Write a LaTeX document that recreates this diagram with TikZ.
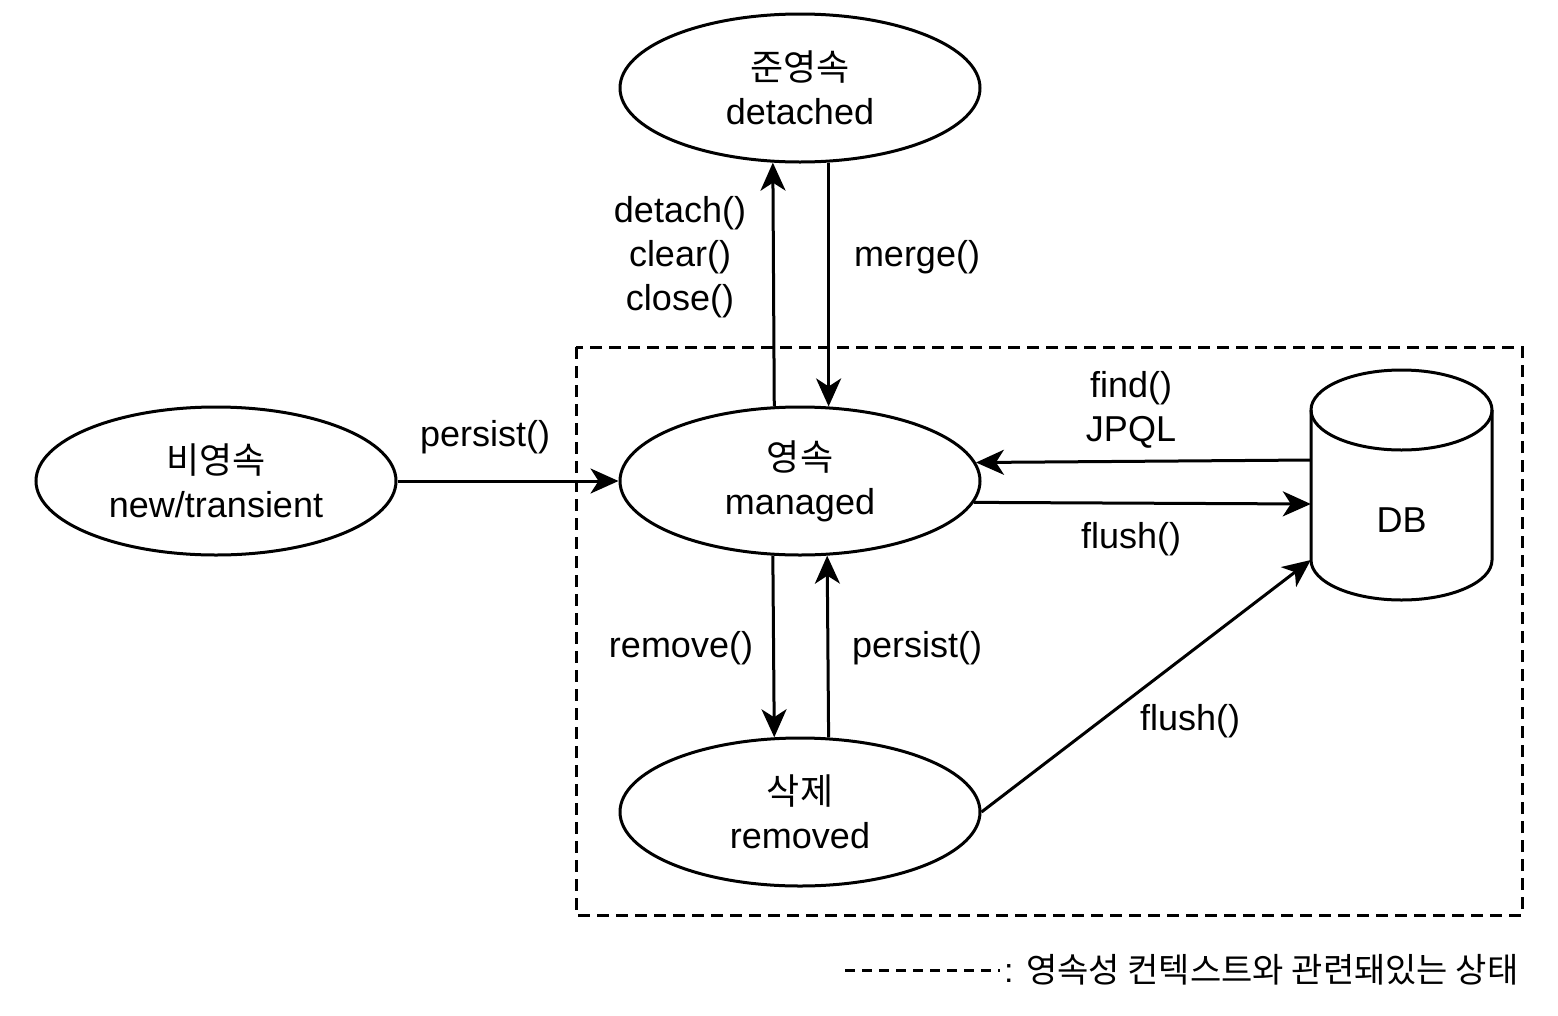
\documentclass[tikz,border=0pt]{standalone}
\usepackage{fontspec}
\setmainfont{Liberation Sans}
\newfontfamily\kr{Noto Sans CJK KR}
\usetikzlibrary{arrows.meta,shapes.geometric}
\begin{document}
\begin{tikzpicture}[x=1pt,y=-1pt,
  st/.style={ellipse,draw,line width=3pt,minimum width=360pt,minimum height=148pt,inner sep=0pt,align=center,font=\fontsize{36}{44}\selectfont},
  arr/.style={line width=3pt,-{Stealth[length=28pt,width=25pt,inset=8pt]}},
  lbl/.style={align=center,inner sep=0pt,font=\fontsize{36}{44}\selectfont}]
\useasboundingbox (0,0) rectangle (1558,1015);
% persistence context
\draw[line width=3pt,dash pattern=on 12pt off 7pt] (576,347) rectangle (1522,915);
% states
\node[st] (new) at (216,481) {{\kr 비영속}\\new/transient};
\node[st] (det) at (800,88) {{\kr 준영속}\\detached};
\node[st] (man) at (800,481) {{\kr 영속}\\managed};
\node[st] (rem) at (800,812) {{\kr 삭제}\\removed};
% DB cylinder
\draw[line width=3pt] (1401.5,410) ellipse [x radius=90.5, y radius=40];
\draw[line width=3pt] (1311,410) -- (1311,560) arc[start angle=180,end angle=0,x radius=90.5,y radius=40] -- (1492,410);
\node[lbl,minimum width=181pt,minimum height=150pt] (db) at (1401.5,520) {DB};
% connectors
\draw[arr] (new.east) -- (man.west);
\node[lbl] (l1) at (485,437) {persist()};
\draw[arr] (man.109.5) -- (det.250.2);
\node[lbl] (l2) at (680,257) {detach()\\clear()\\close()};
\draw[arr] (det.291.2) -- (man.69.1);
\node[lbl] (l3) at (917,257) {merge()};
\draw[arr] ([yshift=60pt]db.west) -- (man.6.9);
\node[lbl] (l4) at (1131,410) {find()\\JPQL};
\draw[arr] (man.-7.7) -- ([yshift=16pt]db.west);
\node[lbl] (l5) at (1131,539) {flush()};
\draw[arr] (man.250.5) -- (rem.109.5);
\node[lbl] (l6) at (681,648) {remove()};
\draw[arr] (rem.69.1) -- (man.290.9);
\node[lbl] (l7) at (917,648) {persist()};
\draw[arr] (rem.east) -- ([yshift=-40pt]db.west);
\node[lbl] (l8) at (1190,721) {flush()};
% legend
\coordinate (lg1) at (845,970);
\coordinate (lg2) at (1000,970);
\draw[line width=3pt,dash pattern=on 10pt off 7pt] (lg1) -- (lg2);
\node[lbl,anchor=west,font=\fontsize{34}{44}\selectfont] (leg) at (1004,970) {: {\kr 영속성 컨텍스트와 관련돼있는 상태}};
\end{tikzpicture}
\end{document}
